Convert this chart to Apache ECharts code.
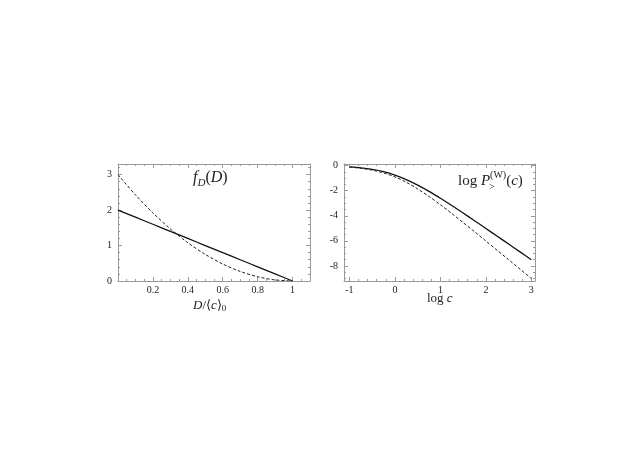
<!DOCTYPE html>
<html><head><meta charset="utf-8">
<script src="https://cdn.jsdelivr.net/npm/echarts@6/dist/echarts.min.js"></script>
<style>html,body{margin:0;padding:0;background:#fff}#c{width:643px;height:455px}</style>
</head><body><div id="c"></div>
<script>
// Left panel: f_D(D) vs D/<c>_0
const dVals = [0, 0.1, 0.2, 0.3, 0.4, 0.5, 0.6, 0.7, 0.8, 0.9, 1.0];
const fSolid = [2.0, 1.8, 1.6, 1.4, 1.2, 1.0, 0.8, 0.6, 0.4, 0.2, 0.0];
const fDashed = [3.0, 2.43, 1.92, 1.47, 1.08, 0.75, 0.48, 0.27, 0.12, 0.03, 0.0];
const leftXTicks = [0.2, 0.4, 0.6, 0.8, 1];
const leftXTickLabels = ['0.2', '0.4', '0.6', '0.8', '1'];
const leftYTicks = [0, 1, 2, 3];
const leftYTickLabels = ['0', '1', '2', '3'];

// Right panel: log P_>^(W)(c) vs log c
const logC = [-1, -0.75, -0.5, -0.25, 0, 0.25, 0.5, 0.75, 1, 1.25, 1.5, 1.75, 2, 2.25, 2.5, 2.75, 3];
const pSolid = [-0.10, -0.18, -0.30, -0.48, -0.75, -1.11, -1.55, -2.05, -2.60, -3.18, -3.78, -4.39, -5.01, -5.63, -6.25, -6.88, -7.50];
const pDashed = [-0.12, -0.21, -0.36, -0.58, -0.90, -1.33, -1.86, -2.46, -3.12, -3.82, -4.54, -5.27, -6.01, -6.76, -7.50, -8.25, -9.00];
const rightXTicks = [-1, 0, 1, 2, 3];
const rightXTickLabels = ['-1', '0', '1', '2', '3'];
const rightYTicks = [0, -2, -4, -6, -8];
const rightYTickLabels = ['0', '-2', '-4', '-6', '-8'];

function range(a, b, s) { const r = []; for (let v = a; v <= b + 1e-9; v += s) r.push(+v.toFixed(4)); return r; }

const FONT = 'Liberation Serif';
const FRAME = '#9a9a9a';

function mkAxis(kind, grid, pos, min, max, ticks, labels, len, showLine, showLabel) {
  const a = {
    type: 'value', gridIndex: grid, position: pos, min: min, max: max,
    axisLine: { show: showLine, onZero: false, lineStyle: { color: FRAME, width: 1 } },
    axisTick: { show: true, inside: true, length: len, customValues: ticks, lineStyle: { color: FRAME, width: 1 } },
    splitLine: { show: false },
    axisLabel: { show: false }
  };
  if (showLabel) {
    a.axisLabel = {
      show: true, customValues: ticks, color: '#222', fontFamily: FONT, fontSize: 10,
      margin: kind === 'x' ? 4 : 6,
      formatter: function (v) { const i = ticks.findIndex(t => Math.abs(t - v) < 1e-6); return i >= 0 ? labels[i] : ''; }
    };
  }
  return a;
}

const xAxes = [
  mkAxis('x', 0, 'bottom', 0, 1.1, leftXTicks, leftXTickLabels, 4, true, true),
  mkAxis('x', 0, 'top', 0, 1.1, leftXTicks, null, 4, true, false),
  mkAxis('x', 0, 'bottom', 0, 1.1, range(0.05, 1.1, 0.05), null, 2, false, false),
  mkAxis('x', 0, 'top', 0, 1.1, range(0.05, 1.1, 0.05), null, 2, false, false),
  mkAxis('x', 1, 'bottom', -1.12, 3.08, rightXTicks, rightXTickLabels, 4, true, true),
  mkAxis('x', 1, 'top', -1.12, 3.08, rightXTicks, null, 4, true, false),
  mkAxis('x', 1, 'bottom', -1.12, 3.08, range(-1, 3, 0.2), null, 2, false, false),
  mkAxis('x', 1, 'top', -1.12, 3.08, range(-1, 3, 0.2), null, 2, false, false)
];
const yAxes = [
  mkAxis('y', 0, 'left', 0, 3.3, leftYTicks, leftYTickLabels, 4, true, true),
  mkAxis('y', 0, 'right', 0, 3.3, leftYTicks, null, 4, true, false),
  mkAxis('y', 0, 'left', 0, 3.3, range(0, 3.2, 0.2), null, 2, false, false),
  mkAxis('y', 0, 'right', 0, 3.3, range(0, 3.2, 0.2), null, 2, false, false),
  mkAxis('y', 1, 'left', -9.2, 0.13, rightYTicks, rightYTickLabels, 4, true, true),
  mkAxis('y', 1, 'right', -9.2, 0.13, rightYTicks, null, 4, true, false),
  mkAxis('y', 1, 'left', -9.2, 0.13, range(-9, 0, 0.5), null, 2, false, false),
  mkAxis('y', 1, 'right', -9.2, 0.13, range(-9, 0, 0.5), null, 2, false, false)
];

function line(xs, ys, xi, yi, dashed) {
  return {
    type: 'line', xAxisIndex: xi, yAxisIndex: yi, smooth: 0.3, symbol: 'none', silent: true,
    data: xs.map((x, i) => [x, ys[i]]),
    lineStyle: dashed ? { color: '#222', width: 1, type: [3, 2] } : { color: '#111', width: 1.3 }
  };
}

const chart = echarts.init(document.getElementById('c'), null, { renderer: 'canvas' });
chart.setOption({
  animation: false,
  backgroundColor: '#fff',
  grid: [
    { left: 118, top: 164, width: 192, height: 117 },
    { left: 344, top: 164, width: 191, height: 117 }
  ],
  xAxis: xAxes,
  yAxis: yAxes,
  series: [
    line(dVals, fSolid, 0, 0, false),
    line(dVals, fDashed, 0, 0, true),
    line(logC, pSolid, 4, 4, false),
    line(logC, pDashed, 4, 4, true)
  ],
  graphic: [
    { type: 'text', left: 193, top: 170, style: {
      text: '{i|f}{s|D}{n|(}{i|D}{n|)}', fontFamily: FONT,
      rich: {
        i: { fontFamily: FONT, fontStyle: 'italic', fontSize: 16, fill: '#222', verticalAlign: 'top' },
        n: { fontFamily: FONT, fontSize: 16, fill: '#222', verticalAlign: 'top' },
        s: { fontFamily: FONT, fontStyle: 'italic', fontSize: 11, fill: '#222', padding: [8, 0, 0, 0], verticalAlign: 'top' }
      } } },
    { type: 'text', left: 458, top: 170, style: {
      text: '{n|log }{i|P}{sup|(W)}{n|(}{i|c}{n|)}', fontFamily: FONT,
      rich: {
        i: { fontFamily: FONT, fontStyle: 'italic', fontSize: 15, fill: '#222', padding: [4, 0, 0, 0], verticalAlign: 'top' },
        n: { fontFamily: FONT, fontSize: 15, fill: '#222', padding: [4, 0, 0, 0], verticalAlign: 'top' },
        sup: { fontFamily: FONT, fontSize: 10, fill: '#222', padding: [0, 0, 0, 0], verticalAlign: 'top' }
      } } },
    { type: 'text', left: 489, top: 182, style: { text: '>', fontFamily: FONT, fontSize: 10, fill: '#222' } },
    { type: 'text', left: 193, top: 299, style: {
      text: '{i|D}{n|/⟨}{i|c}{n|⟩}{s|0}',
      rich: {
        i: { fontFamily: FONT, fontStyle: 'italic', fontSize: 13, fill: '#222', verticalAlign: 'top' },
        n: { fontFamily: FONT, fontSize: 13, fill: '#222', verticalAlign: 'top' },
        s: { fontFamily: FONT, fontSize: 9, fill: '#222', padding: [5, 0, 0, 0], verticalAlign: 'top' }
      } } },
    { type: 'text', left: 427, top: 292, style: {
      text: '{n|log }{i|c}',
      rich: {
        i: { fontFamily: FONT, fontStyle: 'italic', fontSize: 13, fill: '#222' },
        n: { fontFamily: FONT, fontSize: 13, fill: '#222' }
      } } }
  ]
});
</script>
</body></html>
